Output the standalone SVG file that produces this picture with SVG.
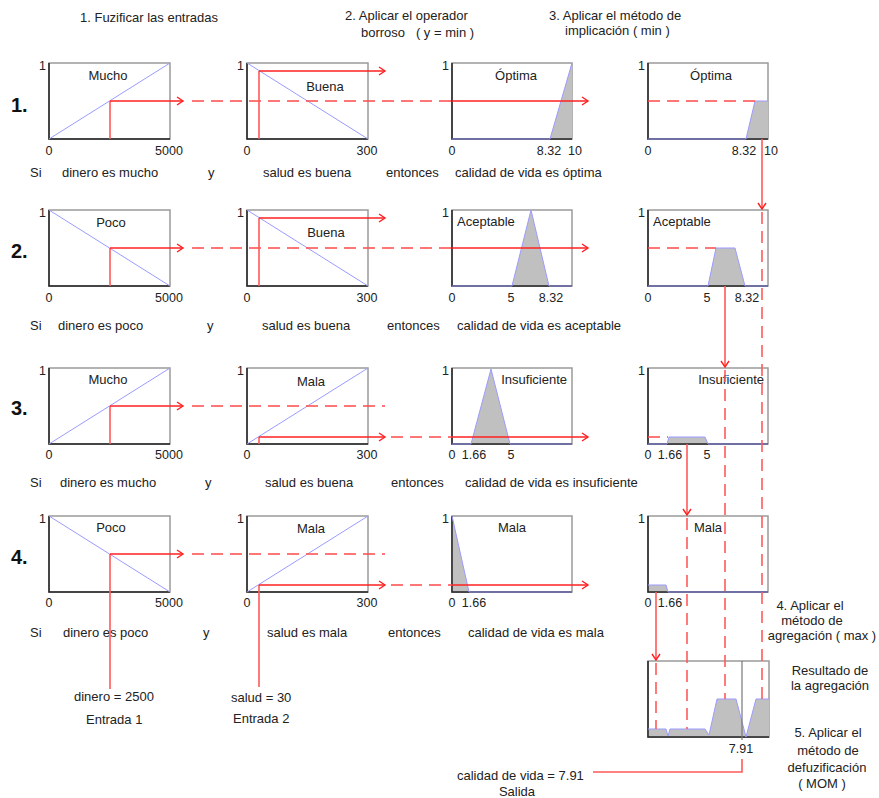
<svg xmlns="http://www.w3.org/2000/svg" width="879" height="798" viewBox="0 0 879 798">
<style>
.t{font-family:"Liberation Sans",Arial,sans-serif;font-size:13px;fill:#222}
.k{font-family:"Liberation Sans",Arial,sans-serif;font-size:12.5px;fill:#222}
.m{text-anchor:middle}
.e{text-anchor:end}
.n{font-family:"Liberation Sans",Arial,sans-serif;font-size:20px;font-weight:bold;fill:#111}
.bx{fill:#fff;stroke:#9a9a9a;stroke-width:1.5}
.ax{fill:none;stroke:#222;stroke-width:1.5}
.mf{fill:none;stroke:#9b9bff;stroke-width:1}
.sh{fill:#c0c0c0;stroke:none}
.r{fill:none;stroke:#ff2020;stroke-width:1.4}
.rv{fill:none;stroke:#ff5a5a;stroke-width:1.6}
.rd{fill:none;stroke:#ff4a4a;stroke-width:1.4;stroke-dasharray:12,7}
.rdv{fill:none;stroke:#ff5a5a;stroke-width:1.6;stroke-dasharray:12,7}
</style>
<defs>
<marker id="ar" markerWidth="10" markerHeight="10" refX="7" refY="5" orient="auto" markerUnits="userSpaceOnUse">
<path d="M1,1 L7,5 L1,9" fill="none" stroke="#ff2020" stroke-width="1.4"/>
</marker>
</defs>
<rect width="879" height="798" fill="#fff"/>

<g id="titles">
<text class="t" x="80" y="22">1. Fuzificar las entradas</text>
<text class="t" x="345" y="20">2. Aplicar el operador</text>
<text class="t" x="361" y="37" xml:space="preserve" style="white-space:pre">borroso   ( y = min )</text>
<text class="t" x="549" y="20">3. Aplicar el método de</text>
<text class="t" x="565" y="35">implicación ( min )</text>
<text class="n" x="11" y="112">1.</text>
<text class="n" x="11" y="258">2.</text>
<text class="n" x="11" y="415">3.</text>
<text class="n" x="11" y="564">4.</text>
</g>

<!-- Row 1 -->
<g id="A1">
<rect class="bx" x="49" y="63" width="121" height="76"/><path class="ax" d="M49,63 V139 H170"/>
<path class="mf" d="M49,139 L170,63"/>
<text class="t m" x="108" y="80">Mucho</text>
<text class="k e" x="46" y="70">1</text><text class="k m" x="49" y="155">0</text><text class="k m" x="169" y="155">5000</text>
</g>
<g id="B1">
<rect class="bx" x="247" y="63" width="121" height="76"/><path class="ax" d="M247,63 V139 H368"/>
<path class="mf" d="M247,63 L368,139"/>
<text class="t m" x="325" y="91">Buena</text>
<text class="k e" x="244" y="70">1</text><text class="k m" x="247" y="155">0</text><text class="k m" x="367" y="155">300</text>
</g>
<g id="C1">
<rect class="bx" x="452" y="63" width="120" height="76"/>
<polygon class="sh" points="550,139 572,63 572,139"/>
<path class="ax" d="M452,63 V139 H572"/>
<path class="mf" d="M452,139 L550,139 L572,63"/>
<text class="t m" x="516" y="80">Óptima</text>
<text class="k e" x="449" y="70">1</text><text class="k m" x="452" y="155">0</text><text class="k m" x="549" y="155">8.32</text><text class="k m" x="575" y="155">10</text>
</g>
<g id="D1">
<rect class="bx" x="648" y="63" width="120" height="76"/>
<polygon class="sh" points="746,139 755,101 768,101 768,139"/>
<path class="ax" d="M648,63 V139 H768"/>
<path class="mf" d="M648,139 L746,139 L755,101 L768,101"/>
<text class="t m" x="711" y="80">Óptima</text>
<text class="k e" x="645" y="70">1</text><text class="k m" x="648" y="155">0</text><text class="k m" x="744" y="155">8.32</text><text class="k m" x="771" y="155">10</text>
</g>
<g id="rule1">
<text class="t" x="30" y="177">Si</text><text class="t" x="62" y="177">dinero es mucho</text><text class="t" x="208" y="177">y</text>
<text class="t" x="263" y="177">salud es buena</text><text class="t" x="386" y="177">entonces</text><text class="t" x="455" y="177">calidad de vida es óptima</text>
</g>

<!-- Row 2 -->
<g id="A2">
<rect class="bx" x="49" y="210" width="121" height="76"/><path class="ax" d="M49,210 V286 H170"/>
<path class="mf" d="M49,210 L170,286"/>
<text class="t m" x="111" y="227">Poco</text>
<text class="k e" x="46" y="217">1</text><text class="k m" x="49" y="302">0</text><text class="k m" x="169" y="302">5000</text>
</g>
<g id="B2">
<rect class="bx" x="247" y="210" width="121" height="76"/><path class="ax" d="M247,210 V286 H368"/>
<path class="mf" d="M247,210 L368,286"/>
<text class="t m" x="326" y="237">Buena</text>
<text class="k e" x="244" y="217">1</text><text class="k m" x="247" y="302">0</text><text class="k m" x="367" y="302">300</text>
</g>
<g id="C2">
<rect class="bx" x="452" y="210" width="120" height="76"/>
<polygon class="sh" points="512,286 531,210 549,286"/>
<path class="ax" d="M452,210 V286 H572"/>
<path class="mf" d="M452,286 L512,286 L531,210 L549,286 L572,286"/>
<text class="t" x="457" y="226">Aceptable</text>
<text class="k e" x="449" y="217">1</text><text class="k m" x="452" y="302">0</text><text class="k m" x="511" y="302">5</text><text class="k m" x="551" y="302">8.32</text>
</g>
<g id="D2">
<rect class="bx" x="648" y="210" width="120" height="76"/>
<polygon class="sh" points="708,286 716,248 735,248 745,286"/>
<path class="ax" d="M648,210 V286 H768"/>
<path class="mf" d="M648,286 L708,286 L716,248 L735,248 L745,286 L768,286"/>
<text class="t" x="653" y="226">Aceptable</text>
<text class="k e" x="645" y="217">1</text><text class="k m" x="648" y="302">0</text><text class="k m" x="707" y="302">5</text><text class="k m" x="747" y="302">8.32</text>
</g>
<g id="rule2">
<text class="t" x="30" y="330">Si</text><text class="t" x="58" y="330">dinero es poco</text><text class="t" x="207" y="330">y</text>
<text class="t" x="262" y="330">salud es buena</text><text class="t" x="387" y="330">entonces</text><text class="t" x="457" y="330">calidad de vida es aceptable</text>
</g>

<!-- Row 3 -->
<g id="A3">
<rect class="bx" x="49" y="368" width="121" height="76"/><path class="ax" d="M49,368 V444 H170"/>
<path class="mf" d="M49,444 L170,368"/>
<text class="t m" x="108" y="384">Mucho</text>
<text class="k e" x="46" y="375">1</text><text class="k m" x="49" y="459">0</text><text class="k m" x="169" y="459">5000</text>
</g>
<g id="B3">
<rect class="bx" x="247" y="368" width="121" height="76"/><path class="ax" d="M247,368 V444 H368"/>
<path class="mf" d="M247,444 L368,368"/>
<text class="t m" x="311" y="386">Mala</text>
<text class="k e" x="244" y="375">1</text><text class="k m" x="247" y="459">0</text><text class="k m" x="367" y="459">300</text>
</g>
<g id="C3">
<rect class="bx" x="452" y="368" width="120" height="76"/>
<polygon class="sh" points="471,444 491,369 510,444"/>
<path class="ax" d="M452,368 V444 H572"/>
<path class="mf" d="M452,444 L471,444 L491,369 L510,444 L572,444"/>
<text class="t e" x="567" y="384">Insuficiente</text>
<text class="k e" x="449" y="375">1</text><text class="k m" x="452" y="459">0</text><text class="k m" x="474" y="459">1.66</text><text class="k m" x="511" y="459">5</text>
</g>
<g id="D3">
<rect class="bx" x="648" y="368" width="120" height="76"/>
<polygon class="sh" points="667,444 669,437 705,437 708,444"/>
<path class="ax" d="M648,368 V444 H768"/>
<path class="mf" d="M648,444 L667,444 L669,437 L705,437 L708,444 L768,444"/>
<text class="t e" x="764" y="384">Insuficiente</text>
<text class="k e" x="645" y="375">1</text><text class="k m" x="648" y="459">0</text><text class="k m" x="670" y="459">1.66</text><text class="k m" x="707" y="459">5</text>
</g>
<g id="rule3">
<text class="t" x="30" y="487">Si</text><text class="t" x="60" y="487">dinero es mucho</text><text class="t" x="205" y="487">y</text>
<text class="t" x="265" y="487">salud es buena</text><text class="t" x="391" y="487">entonces</text><text class="t" x="465" y="487">calidad de vida es insuficiente</text>
</g>

<!-- Row 4 -->
<g id="A4">
<rect class="bx" x="49" y="516" width="121" height="76"/><path class="ax" d="M49,516 V592 H170"/>
<path class="mf" d="M49,516 L170,592"/>
<text class="t m" x="111" y="532">Poco</text>
<text class="k e" x="46" y="523">1</text><text class="k m" x="49" y="607">0</text><text class="k m" x="169" y="607">5000</text>
</g>
<g id="B4">
<rect class="bx" x="247" y="516" width="121" height="76"/><path class="ax" d="M247,516 V592 H368"/>
<path class="mf" d="M247,592 L368,516"/>
<text class="t m" x="311" y="533">Mala</text>
<text class="k e" x="244" y="523">1</text><text class="k m" x="247" y="607">0</text><text class="k m" x="367" y="607">300</text>
</g>
<g id="C4">
<rect class="bx" x="452" y="516" width="120" height="76"/>
<polygon class="sh" points="452,516 469,592 452,592"/>
<path class="ax" d="M452,516 V592 H572"/>
<path class="mf" d="M452,516 L469,592 L572,592"/>
<text class="t m" x="512" y="532">Mala</text>
<text class="k e" x="449" y="523">1</text><text class="k m" x="452" y="607">0</text><text class="k m" x="474" y="607">1.66</text>
</g>
<g id="D4">
<rect class="bx" x="648" y="516" width="120" height="76"/>
<polygon class="sh" points="648,592 648,585 666,585 668,592"/>
<path class="ax" d="M648,516 V592 H768"/>
<path class="mf" d="M648,585 L666,585 L668,592 L768,592"/>
<text class="t m" x="708" y="532">Mala</text>
<text class="k e" x="645" y="523">1</text><text class="k m" x="648" y="607">0</text><text class="k m" x="670" y="607">1.66</text>
</g>
<g id="rule4">
<text class="t" x="30" y="637">Si</text><text class="t" x="63" y="637">dinero es poco</text><text class="t" x="203" y="637">y</text>
<text class="t" x="267" y="637">salud es mala</text><text class="t" x="388" y="637">entonces</text><text class="t" x="468" y="637">calidad de vida es mala</text>
</g>

<!-- Aggregation -->
<g id="AGG">
<rect class="bx" x="648" y="661" width="121" height="76"/>
<polygon class="sh" points="648,737 648,729 666,729 668,736 670,729 705,729 709,735 717,699 736,699 746,737 756,699 769,699 769,737"/>
<path class="ax" d="M648,661 V737 H769"/>
<path class="mf" d="M648,729 L666,729 L668,736 L670,729 L705,729 L709,735 L717,699 L736,699 L746,737 L756,699 L769,699"/>
<path d="M742,661 V740" stroke="#777" stroke-width="1.2" fill="none"/>
<text class="k m" x="741" y="753">7.91</text>
</g>

<g id="inputs">
<text class="t" x="74" y="701">dinero = 2500</text>
<text class="t" x="86" y="724">Entrada 1</text>
<text class="t" x="231" y="702">salud = 30</text>
<text class="t" x="233" y="723">Entrada 2</text>
</g>
<g id="output">
<text class="t" x="457" y="780">calidad de vida = 7.91</text>
<text class="t m" x="517" y="796">Salida</text>
</g>
<g id="steps">
<text class="t m" x="810" y="610">4. Aplicar el</text>
<text class="t m" x="812" y="625">método de</text>
<text class="t m" x="822" y="640">agregación ( max )</text>
<text class="t m" x="830" y="675">Resultado de</text>
<text class="t m" x="830" y="690">la agregación</text>
<text class="t m" x="828" y="737">5. Aplicar el</text>
<text class="t m" x="828" y="755">método de</text>
<text class="t m" x="827" y="772">defuzificación</text>
<text class="t m" x="822" y="788">( MOM )</text>
</g>

<g id="connectors">
<!-- row 1 -->
<path class="rv" d="M110,139 V101"/><path class="r" d="M110,101 H183" marker-end="url(#ar)"/>
<path class="rd" d="M192,101 H452"/><path class="r" d="M452,101 H588" marker-end="url(#ar)"/>
<path class="rv" d="M259,139 V71"/><path class="r" d="M259,71 H385" marker-end="url(#ar)"/>
<path class="rd" d="M648,101 H755"/>
<!-- row 2 -->
<path class="rv" d="M110,286 V248"/><path class="r" d="M110,248 H183" marker-end="url(#ar)"/>
<path class="rd" d="M192,248 H452"/><path class="r" d="M452,248 H588" marker-end="url(#ar)"/>
<path class="rv" d="M259,286 V218"/><path class="r" d="M259,218 H385" marker-end="url(#ar)"/>
<path class="rd" d="M648,248 H716"/>
<!-- row 3 -->
<path class="rv" d="M110,444 V406"/><path class="r" d="M110,406 H183" marker-end="url(#ar)"/>
<path class="rd" d="M192,406 H385"/>
<path class="rv" d="M259,444 V437"/><path class="r" d="M259,437 H385" marker-end="url(#ar)"/>
<path class="rd" d="M391,437 H452"/><path class="r" d="M452,437 H588" marker-end="url(#ar)"/>
<path class="rd" d="M648,437 H668"/>
<!-- row 4 -->
<path class="rv" d="M110,689 V554"/><path class="r" d="M110,554 H183" marker-end="url(#ar)"/>
<path class="rd" d="M192,554 H385"/>
<path class="rv" d="M259,687 V585"/><path class="r" d="M259,585 H385" marker-end="url(#ar)"/>
<path class="rd" d="M391,585 H452"/><path class="r" d="M452,585 H588" marker-end="url(#ar)"/>
<!-- aggregation verticals -->
<path class="rv" d="M762,139 V209" marker-end="url(#ar)"/>
<path class="rdv" d="M762,212 V699"/>
<path class="rv" d="M725,286 V367" marker-end="url(#ar)"/>
<path class="rdv" d="M725,370 V699"/>
<path class="rv" d="M687,444 V515" marker-end="url(#ar)"/>
<path class="rdv" d="M687,518 V729"/>
<path class="rv" d="M656,592 V660" marker-end="url(#ar)"/>
<path class="rdv" d="M656,663 V729"/>
<!-- output -->
<path class="rv" d="M742,759 V772 H593"/>
</g>
</svg>
